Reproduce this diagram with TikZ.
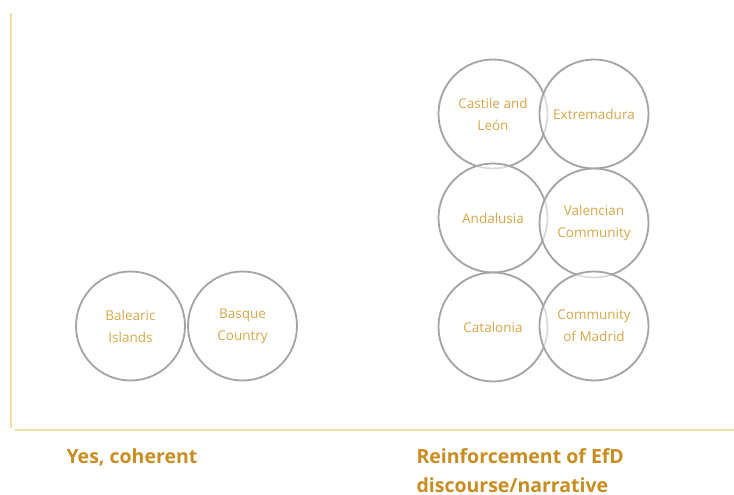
\documentclass[tikz,border=0pt]{standalone}
\usepackage{fontspec}
\setmainfont{Open Sans}
\usetikzlibrary{positioning}
\definecolor{axisgold}{HTML}{F3DCA4}
\definecolor{regiongold}{HTML}{D8A646}
\definecolor{labelgold}{HTML}{C98C20}
\definecolor{ringgray}{HTML}{A3A3A3}
\tikzset{
 region/.style={circle, draw=ringgray, line width=1.8pt, fill=white, fill opacity=.6, text opacity=1,
   minimum size=109pt, inner sep=0pt, align=center, text=regiongold,
   font=\fontsize{13.5}{22}\selectfont},
 catlabel/.style={anchor=west, align=left, text=labelgold, font=\fontsize{19.5}{29}\selectfont\bfseries}
}
\begin{document}
\begin{tikzpicture}[x=1pt,y=1pt]
\useasboundingbox (0,0) rectangle (734,495);
\draw[axisgold, line width=1.2pt] (11,482)--(11,67);
\draw[axisgold, line width=1.2pt] (15,65)--(734,65);
% yes, coherent
\node[region] (balearic) at (130.5,169) {Balearic\\Islands};
\node[region] (basque) at (242.5,169) {Basque\\Country};
% reinforcement
\node[region] (castile) at (493,381) {Castile and\\León};
\node[region] (extremadura) at (594,381) {Extremadura};
\node[region] (andalusia) at (493,277) {Andalusia};
\node[region] (valencia) at (594,272) {Valencian\\Community};
\node[region] (catalonia) at (493,168) {Catalonia};
\node[region] (madrid) at (594,169) {Community\\of Madrid};
\node[catlabel] (coherent) at (63,38) {Yes, coherent};
\node[catlabel] (reinforce) at (413,24.5) {Reinforcement of EfD\\discourse/narrative};
\end{tikzpicture}
\end{document}
